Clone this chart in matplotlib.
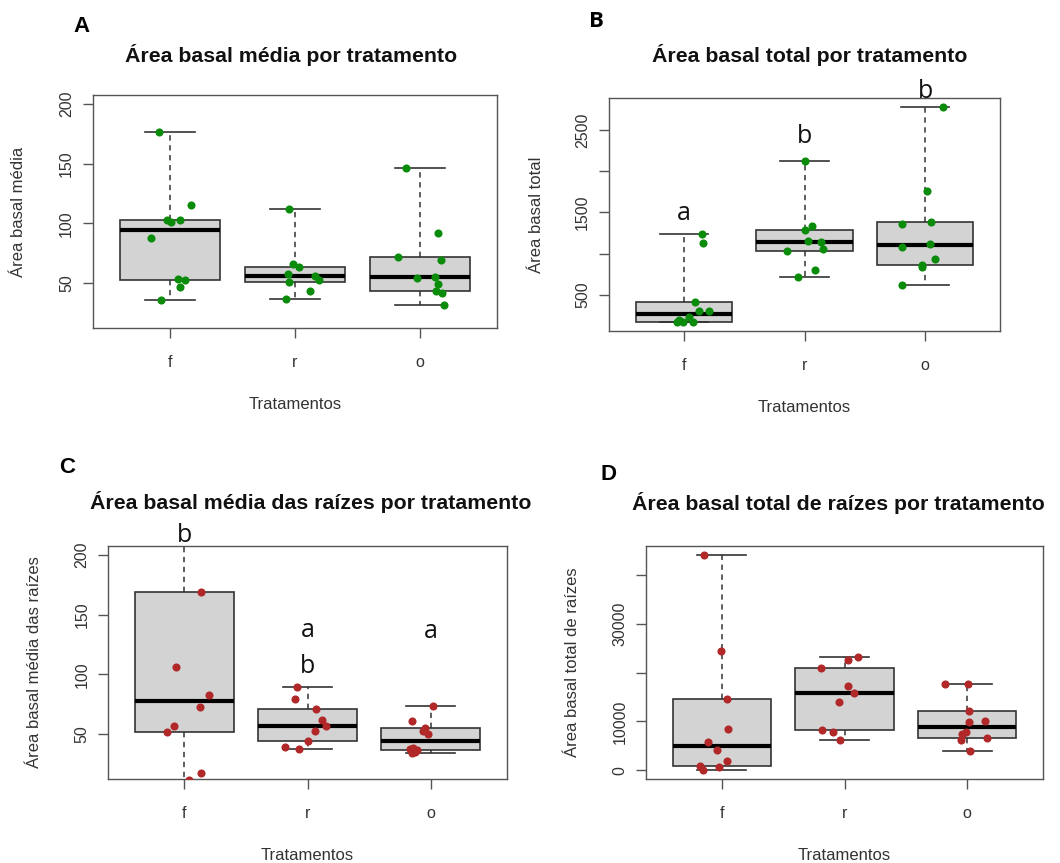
import numpy as np
import matplotlib
matplotlib.use("Agg")
import matplotlib.pyplot as plt

W, H = 1060, 863

tratamentos = ["f", "r", "o"]

# area basal media (A)
media_f = [176.4, 103.2, 101.2, 103.2, 115.4, 88.1, 53.9, 52.5, 46.9, 35.8]
media_r = [111.8, 66.4, 63.6, 58.1, 51.4, 56.1, 53.1, 43.3, 36.6]
media_o = [146.3, 92.0, 72.3, 69.5, 54.5, 55.6, 49.2, 43.3, 42.2, 31.9]

# area basal total (B)
total_f = [1242, 1133, 411, 309, 309, 236, 196, 175, 168, 167]
total_r = [2119, 1332, 1283, 1157, 1145, 1035, 1052, 804, 723]
total_o = [2784, 1762, 1364, 1380, 1080, 1121, 930, 861, 833, 626]

# area basal media das raizes (C)
raiz_media_f = [290, 240, 168.5, 106.0, 82.9, 73.1, 57.2, 51.7, 17.4, 12.0]
raiz_media_r = [89.3, 79.8, 71.2, 61.7, 57.2, 52.8, 44.4, 39.7, 37.7]
raiz_media_o = [73.4, 61.4, 55.6, 52.8, 50.5, 38.5, 37.7, 36.9, 35.4, 34.9]

# area basal total de raizes (D)
raiz_total_f = [44110, 24315, 14658, 8493, 5753, 4110, 1849, 890, 616, 0]
raiz_total_r = [23219, 22466, 20890, 17260, 15890, 14041, 8288, 7808, 6164]
raiz_total_o = [17740, 17740, 12123, 10137, 9863, 7808, 7534, 6644, 6164, 3904]

# horizontal jitter used by the stripchart overlay
jit_media = [[-0.088, -0.024, 0.003, 0.075, 0.163, -0.152, 0.064, 0.118, 0.075, -0.072],
             [-0.051, -0.013, 0.029, -0.056, -0.051, 0.163, 0.19, 0.118, -0.072],
             [-0.11, 0.144, -0.171, 0.171, -0.019, 0.126, 0.144, 0.134, 0.182, 0.195]]
jit_total = [[0.149, 0.16, 0.09, 0.127, 0.205, 0.044, -0.04, -0.006, 0.077, -0.06],
             [0.0, 0.064, 0.0, 0.03, 0.133, -0.146, 0.152, 0.088, -0.052],
             [0.144, 0.014, -0.196, 0.052, -0.196, 0.036, 0.08, -0.028, -0.028, -0.196]]
jit_raiz_media = [[0.05, -0.1, 0.135, -0.07, 0.2, 0.127, -0.086, -0.143, 0.135, 0.038],
                  [-0.086, -0.105, 0.065, 0.119, 0.154, 0.057, 0.005, -0.184, -0.068],
                  [0.016, -0.154, -0.049, -0.059, -0.024, -0.141, -0.17, -0.108, -0.127, -0.154]]
jit_raiz_total = [[-0.143, -0.008, 0.041, 0.046, -0.114, -0.043, 0.041, -0.178, -0.024, -0.154],
                  [0.108, 0.027, -0.195, 0.027, 0.081, -0.043, -0.186, -0.097, -0.035],
                  [-0.181, 0.008, 0.016, 0.143, 0.016, -0.011, -0.038, 0.162, -0.046, 0.024]]

# letras de significancia (Tukey)
letras_total = [("a", 1, 1405), ("b", 2, 2346), ("b", 3, 2893)]
letras_raiz_media = [("b", 1, 210.3), ("a", 2, 131.1), ("b", 2, 101.0), ("a", 3, 130.3)]

R_FONT = "Liberation Sans"
INK = "#333333"


def fivenum(v):
    v = np.sort(np.asarray(v, dtype=float))
    n = len(v)
    n4 = np.floor((n + 3) / 2) / 2
    d = np.array([1, n4, (n + 1) / 2, n + 1 - n4, n]) - 1
    return 0.5 * (v[np.floor(d).astype(int)] + v[np.ceil(d).astype(int)])


def r_lim(lo, hi):
    pad = 0.04 * (hi - lo)
    return lo - pad, hi + pad


def px_axes(left, top, right, bottom):
    return fig.add_axes([left / W, 1 - bottom / H, (right - left) / W, (bottom - top) / H])


def painel(ax, grupos, jitters, cor, ylim, yticks, ylabels, ylabel):
    stats = []
    for g in grupos:
        lo, q1, med, q3, hi = fivenum(g)
        stats.append(dict(med=med, q1=q1, q3=q3, whislo=lo, whishi=hi, fliers=[]))
    ax.bxp(stats, positions=[1, 2, 3], widths=0.8, capwidths=0.4, patch_artist=True,
           showfliers=False,
           boxprops=dict(facecolor="#d3d3d3", edgecolor=INK, linewidth=1.2),
           medianprops=dict(color="black", linewidth=3, solid_capstyle="butt"),
           whiskerprops=dict(color=INK, linewidth=1.1, linestyle=(0, (3.5, 3))),
           capprops=dict(color=INK, linewidth=1.2))
    for i, (g, j) in enumerate(zip(grupos, jitters)):
        ax.scatter(np.add(i + 1, j), g, s=34, color=cor, zorder=5, linewidths=0)
    ax.set_xlim(0.38, 3.62)
    ax.set_ylim(*ylim)
    ax.set_xticks([1, 2, 3])
    ax.set_xticklabels(tratamentos, fontfamily=R_FONT, fontsize=11.5, color=INK)
    ax.set_yticks(yticks)
    ax.set_yticklabels(ylabels, fontfamily=R_FONT, fontsize=11.5, color=INK,
                       rotation=90, va="center")
    ax.tick_params(axis="x", length=7.5, width=1, color="#555555", pad=12)
    ax.tick_params(axis="y", length=7.5, width=1, color="#555555", pad=6)
    for s in ax.spines.values():
        s.set_color("#555555")
        s.set_linewidth(1.0)
    ax.set_xlabel("Tratamentos", fontfamily=R_FONT, fontsize=12, color=INK, va="top")
    ax.xaxis.set_label_coords(0.5, -0.295)
    ax.set_ylabel(ylabel, fontfamily=R_FONT, fontsize=12, color=INK)
    ax.yaxis.set_label_coords(-0.165, 0.5)


fig = plt.figure(figsize=(W / 100, H / 100), dpi=100)
fig.patch.set_facecolor("white")

green = "#0a8c0a"
red = "#b02828"

axA = px_axes(93, 95, 497, 328)
painel(axA, [media_f, media_r, media_o], jit_media, green, r_lim(20, 200),
       [50, 100, 150, 200], ["50", "100", "150", "200"], "Área basal média")

totais = total_f + total_r + total_o
axB = px_axes(609, 98, 1000, 331)
painel(axB, [total_f, total_r, total_o], jit_total, green, r_lim(min(totais), max(totais)),
       [500, 1000, 1500, 2000, 2500], ["500", "", "1500", "", "2500"], "Área basal total")

axC = px_axes(108, 546, 507, 779)
painel(axC, [raiz_media_f, raiz_media_r, raiz_media_o], jit_raiz_media, red, r_lim(20, 200),
       [50, 100, 150, 200], ["50", "100", "150", "200"], "Área basal média das raízes")

raizes = raiz_total_f + raiz_total_r + raiz_total_o
axD = px_axes(646, 546, 1043, 779)
painel(axD, [raiz_total_f, raiz_total_r, raiz_total_o], jit_raiz_total, red,
       r_lim(min(raizes), max(raizes)),
       [0, 10000, 20000, 30000, 40000], ["0", "10000", "", "30000", ""],
       "Área basal total de raízes")

for ax, letras in [(axB, letras_total), (axC, letras_raiz_media)]:
    for txt, x, y in letras:
        ax.text(x, y, txt, ha="center", va="baseline", fontsize=18,
                fontfamily="Open Sans", color="#111111", clip_on=False, zorder=6)

titulos = [("Área basal média por tratamento", 291, 62),
           ("Área basal total por tratamento", 810, 62),
           ("Área basal média das raízes por tratamento", 311, 509),
           ("Área basal total de raízes por tratamento", 838, 510)]
for txt, x, y in titulos:
    fig.text(x / W, 1 - y / H, txt, ha="center", va="baseline", fontsize=15.3,
             fontweight="bold", fontfamily=R_FONT, color="#111111")

paineis = [("A", 73, 32, R_FONT), ("B", 589, 27, "Open Sans"),
           ("C", 59, 473, R_FONT), ("D", 601, 480, R_FONT)]
for txt, x, y, fam in paineis:
    fig.text(x / W, 1 - y / H, txt, ha="left", va="baseline", fontsize=16,
             fontweight="bold", fontfamily=fam, color="black")

fig.savefig("out.png", dpi=100)
plt.close("all")
